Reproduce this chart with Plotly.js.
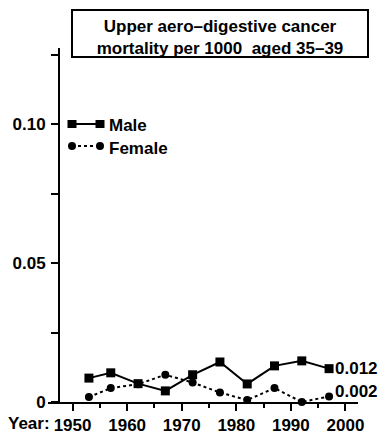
<!DOCTYPE html>
<html>
<head>
<meta charset="utf-8">
<script src="https://cdn.plot.ly/plotly-3.0.1.min.js"></script>
<style>html,body{margin:0;padding:0;background:#fff;}#chart{width:381px;height:437px;}</style>
</head>
<body>
<div id="chart"></div>
<script>
const years = [1953, 1957, 1962, 1967, 1972, 1977, 1982, 1987, 1992, 1997];
const male = [0.0086, 0.0105, 0.0066, 0.0040, 0.0098, 0.0144, 0.0065, 0.0130, 0.0148, 0.012];
const female = [0.0018, 0.0050, 0.0064, 0.0098, 0.0070, 0.0034, 0.0007, 0.0050, 0.0000, 0.002];
const seriesNames = ["Male", "Female"];
const xTickVals = [1950, 1960, 1970, 1980, 1990, 2000];
const xTickText = ["1950", "1960", "1970", "1980", "1990", "2000"];
const yTickVals = [0, 0.05, 0.10];
const yTickText = ["0", "0.05", "0.10"];
const titleText = "Upper aero\u2013digestive cancer<br>mortality per 1000  aged 35\u201339";

const FONT = {family: "Liberation Sans, Arial, sans-serif", size: 17, color: "#000", weight: 700};
const W = 381, H = 437, ML = 48, MR = 23, MT = 48, MB = 35;
const PW = W - ML - MR, PH = H - MT - MB;
const px = x => (x - ML) / PW;
const py = y => (H - MB - y) / PH;

const traces = [
  {x: years, y: male, name: seriesNames[0], type: "scatter", mode: "lines+markers",
   line: {color: "#000", width: 2}, marker: {symbol: "square", size: 9, color: "#000"},
   cliponaxis: false, showlegend: false},
  {x: years, y: female, name: seriesNames[1], type: "scatter", mode: "lines+markers",
   line: {color: "#000", width: 2, dash: "dot"}, marker: {symbol: "circle", size: 8, color: "#000"},
   cliponaxis: false, showlegend: false}
];

const lastM = male[male.length - 1], lastF = female[female.length - 1];
const lastYear = years[years.length - 1];

const shapes = [
  {type: "rect", xref: "paper", yref: "paper", x0: px(72), x1: px(368), y0: py(57), y1: py(10),
   line: {color: "#000", width: 2}, fillcolor: "rgba(0,0,0,0)"},
  // legend samples
  {type: "line", xref: "paper", yref: "paper", x0: px(72), x1: px(100), y0: py(124), y1: py(124), line: {color: "#000", width: 2}},
  {type: "rect", xref: "paper", yref: "paper", xsizemode: "pixel", ysizemode: "pixel", xanchor: px(72), yanchor: py(124), x0: -4.5, x1: 4.5, y0: -4, y1: 4, fillcolor: "#000", line: {width: 0}},
  {type: "rect", xref: "paper", yref: "paper", xsizemode: "pixel", ysizemode: "pixel", xanchor: px(100), yanchor: py(124), x0: -4.5, x1: 4.5, y0: -4, y1: 4, fillcolor: "#000", line: {width: 0}},
  {type: "line", xref: "paper", yref: "paper", x0: px(72), x1: px(100), y0: py(146), y1: py(146), line: {color: "#000", width: 2, dash: "dot"}},
  {type: "circle", xref: "paper", yref: "paper", xsizemode: "pixel", ysizemode: "pixel", xanchor: px(72), yanchor: py(146), x0: -4, x1: 4, y0: -4, y1: 4, fillcolor: "#000", line: {width: 0}},
  {type: "circle", xref: "paper", yref: "paper", xsizemode: "pixel", ysizemode: "pixel", xanchor: px(100), yanchor: py(146), x0: -4, x1: 4, y0: -4, y1: 4, fillcolor: "#000", line: {width: 0}}
];

const annotations = [
  {text: seriesNames[0], xref: "paper", yref: "paper", x: px(107), y: py(125), xanchor: "left", yanchor: "middle", showarrow: false, font: FONT},
  {text: seriesNames[1], xref: "paper", yref: "paper", x: px(107), y: py(148), xanchor: "left", yanchor: "middle", showarrow: false, font: FONT},
  {text: lastM.toFixed(3), x: lastYear, y: lastM, xref: "x", yref: "y", xanchor: "left", yanchor: "middle", xshift: 4, showarrow: false, font: FONT},
  {text: lastF.toFixed(3), x: lastYear, y: lastF, xref: "x", yref: "y", xanchor: "left", yanchor: "middle", xshift: 4, yshift: 5, showarrow: false, font: FONT},
  {text: "Year:", xref: "paper", yref: "paper", x: px(6), y: py(423), xanchor: "left", yanchor: "middle", showarrow: false, font: FONT}
];

const layout = {
  width: W, height: H,
  margin: {l: ML, r: MR, t: MT, b: MB, pad: 0},
  paper_bgcolor: "#fff", plot_bgcolor: "#fff",
  font: FONT,
  showlegend: false,
  title: {text: titleText, font: FONT, x: 220 / W, xanchor: "center", xref: "container",
          y: 1 - 32 / H, yanchor: "middle", yref: "container"},
  xaxis: {range: [1945.5, 2002.3], showgrid: false, zeroline: false, showline: true, linecolor: "#000", linewidth: 2,
          ticks: "outside", ticklen: 7, tickwidth: 2, tickcolor: "#000",
          tickmode: "array", tickvals: xTickVals, ticktext: xTickText, tickfont: FONT,
          minor: {dtick: 5, tick0: 1955, ticks: "outside", ticklen: 4, tickwidth: 2, tickcolor: "#000", showgrid: false},
          fixedrange: true},
  yaxis: {range: [0, 0.1274], anchor: "free", position: px(59), showgrid: false, zeroline: false, showline: true,
          linecolor: "#000", linewidth: 2, ticks: "outside", ticklen: 7, tickwidth: 2, tickcolor: "#000",
          tickmode: "array", tickvals: yTickVals, ticktext: yTickText, tickfont: FONT, ticklabelstandoff: 2,
          minor: {tickmode: "array", tickvals: [0.025, 0.075, 0.125], ticks: "outside", ticklen: 7, tickwidth: 2, tickcolor: "#000", showgrid: false},
          fixedrange: true},
  shapes: shapes,
  annotations: annotations
};

Plotly.newPlot("chart", traces, layout, {displayModeBar: false, staticPlot: true});
</script>
</body>
</html>
